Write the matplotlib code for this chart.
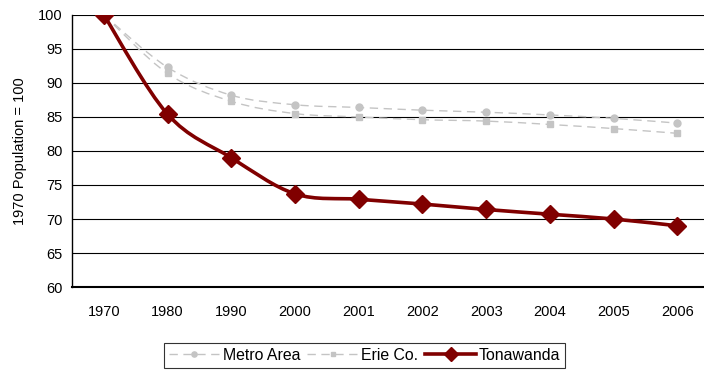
import matplotlib
matplotlib.use("Agg")
import matplotlib.pyplot as plt
from matplotlib.path import Path
from matplotlib.patches import PathPatch
from matplotlib.lines import Line2D

plt.rcParams['font.family'] = ['Liberation Sans', 'DejaVu Sans']

years = ['1970', '1980', '1990', '2000', '2001', '2002', '2003', '2004', '2005', '2006']
metro = [100, 92.3, 88.2, 86.8, 86.4, 86.0, 85.7, 85.3, 84.8, 84.1]
erie = [100, 91.4, 87.3, 85.5, 85.0, 84.6, 84.4, 83.9, 83.3, 82.6]
tonawanda = [100, 85.4, 79.0, 73.7, 72.9, 72.2, 71.4, 70.7, 70.0, 69.0]


def smooth_path(xs, ys):
    # bezier segments through each point, spreadsheet-style smoothing
    pts = list(zip(xs, ys))
    n = len(pts)
    verts = [pts[0]]
    codes = [Path.MOVETO]
    for i in range(n - 1):
        p0 = pts[i - 1] if i > 0 else pts[i]
        p1 = pts[i]
        p2 = pts[i + 1]
        p3 = pts[i + 2] if i + 2 < n else pts[i + 1]
        c1 = (p1[0] + (p2[0] - p0[0]) / 6, p1[1] + (p2[1] - p0[1]) / 6)
        c2 = (p2[0] - (p3[0] - p1[0]) / 6, p2[1] - (p3[1] - p1[1]) / 6)
        verts += [c1, c2, p2]
        codes += [Path.CURVE4] * 3
    return Path(verts, codes)


fig = plt.figure(figsize=(7.04, 3.71), dpi=100)
ax = fig.add_axes([0.1023, 0.2264, 0.905, 0.7332])

x = list(range(len(years)))
series = [
    (metro, '#c4c4c4', 1.0, (0, (6, 4)), 'o', 5, 'Metro Area'),
    (erie, '#c4c4c4', 1.0, (0, (6, 4)), 's', 4.5, 'Erie Co.'),
    (tonawanda, '#800000', 2.6, '-', 'D', 9.5, 'Tonawanda'),
]
handles = []
for vals, col, lw, ls, mk, ms, name in series:
    patch = PathPatch(smooth_path(x, vals), facecolor='none', edgecolor=col,
                      lw=lw, linestyle=ls, zorder=3, capstyle='butt')
    ax.add_patch(patch)
    ax.plot(x, vals, linestyle='none', marker=mk, markersize=ms,
            color=col, markeredgecolor=col, zorder=4)
    handles.append(Line2D([0], [0], color=col, lw=lw, linestyle=ls,
                          marker=mk, markersize=ms * 0.75, label=name))

ax.set_xlim(-0.5, len(years) - 0.5)
ax.set_ylim(60, 100)
ax.set_yticks(range(60, 101, 5))
ax.set_xticks(x)
ax.set_xticklabels(years)
ax.yaxis.grid(True, color='black', lw=0.8)
ax.set_axisbelow(True)
ax.tick_params(axis='both', length=0, labelsize=10.5)
ax.tick_params(axis='x', pad=13)
ax.tick_params(axis='y', pad=7)
for s in ['top', 'right']:
    ax.spines[s].set_visible(False)
ax.spines['left'].set_color('black')
ax.spines['left'].set_linewidth(1.0)
ax.spines['bottom'].set_color('black')
ax.spines['bottom'].set_linewidth(1.5)
ax.set_ylabel('1970 Population = 100', fontsize=10.5, labelpad=8)

leg = fig.legend(handles=handles, loc='center', bbox_to_anchor=(0.518, 0.0418),
                 ncol=3, fontsize=11.4, frameon=True, fancybox=False,
                 edgecolor='black', handlelength=3.2, handletextpad=0.2,
                 columnspacing=0.45, borderpad=0.3, borderaxespad=0)
leg.get_frame().set_linewidth(0.8)

fig.savefig('out.png', dpi=100)
